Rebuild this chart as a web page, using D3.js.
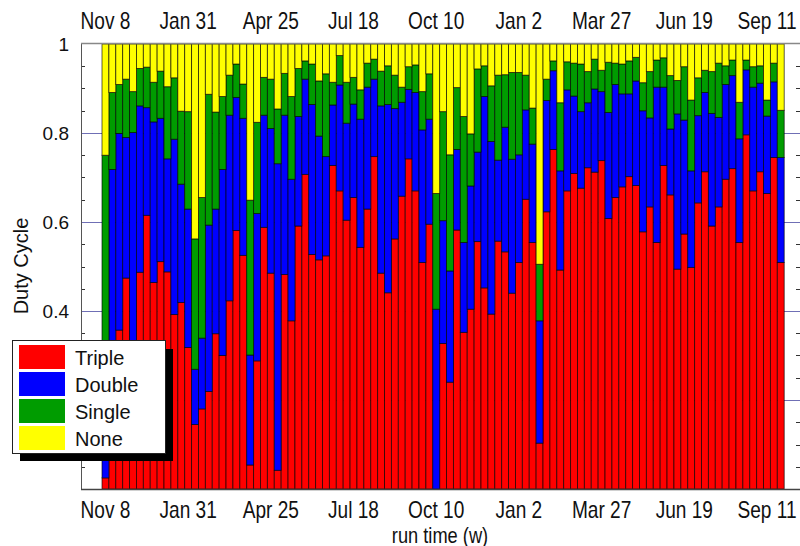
<!DOCTYPE html>
<html>
<head>
<meta charset="utf-8">
<script src="https://cdn.jsdelivr.net/npm/d3@7"></script>
<style>
  html, body { margin: 0; padding: 0; background: #fff; }
  svg { display: block; }
</style>
</head>
<body>
<svg id="chart" width="800" height="546"></svg>
<script>
// ---- data (weekly bars, fractions of time) ----
const weeks = d3.range(99);
const tickWeeks = [0, 12, 24, 36, 48, 60, 72, 84, 96];
const tickLabels = ["Nov 8", "Jan 31", "Apr 25", "Jul 18", "Oct 10", "Jan 2", "Mar 27", "Jun 19", "Sep 11"];
const seriesNames = ["Triple", "Double", "Single", "None"];
const seriesColors = ["#ff0000", "#0000ff", "#009c00", "#ffff00"];
const yTicks = [0.2, 0.4, 0.6, 0.8, 1];

const triple = [.025,.280,.357,.474,.300,.487,.615,.464,.511,.488,.392,.419,.318,.145,.180,.219,.349,.300,.423,.581,
  .525,.054,.288,.588,.485,.042,.482,.378,.591,.707,.527,.515,.524,.727,.670,.604,.655,.543,.629,.747,
  .485,.441,.562,.658,.742,.670,.509,.595,.000,.327,.240,.582,.352,.404,.556,.452,.393,.557,.533,.440,
  .509,.651,.554,.103,.623,.763,.492,.670,.709,.676,.722,.712,.738,.608,.655,.679,.702,.682,.578,.634,
  .554,.727,.661,.494,.573,.498,.643,.713,.591,.634,.696,.720,.554,.796,.670,.713,.664,.745,.509];
const double = [.045,.438,.442,.316,.501,.374,.242,.361,.322,.254,.394,.266,.311,.124,.159,.374,.280,.418,.417,.299,
  .308,.247,.331,.252,.325,.689,.358,.318,.246,.214,.337,.278,.223,.136,.238,.218,.210,.288,.274,.174,
  .376,.423,.293,.211,.156,.221,.298,.236,.404,.276,.250,.181,.202,.277,.201,.430,.388,.182,.280,.301,
  .242,.201,.221,.275,.250,.177,.223,.227,.174,.172,.146,.187,.155,.238,.254,.209,.186,.235,.272,.200,
  .349,.176,.148,.349,.256,.217,.196,.178,.253,.201,.213,.209,.233,.146,.233,.199,.174,.170,.236];
const single = [.680,.173,.110,.131,.092,.084,.091,.089,.106,.162,.138,.164,.219,.293,.316,.294,.218,.164,.090,.075,
  .077,.348,.205,.085,.111,.123,.094,.186,.108,.041,.091,.124,.186,.051,.066,.092,.060,.066,.054,.045,
  .078,.087,.075,.034,.051,.062,.086,.102,.260,.245,.261,.139,.283,.117,.187,.069,.125,.191,.118,.195,
  .185,.078,.081,.127,.048,.022,.153,.063,.074,.107,.070,.067,.048,.113,.048,.067,.074,.053,.063,.104,
  .061,.066,.120,.075,.120,.159,.085,.050,.094,.122,.042,.035,.082,.022,.046,.039,.036,.042,.106];
const none = [.250,.109,.091,.079,.107,.055,.052,.086,.061,.096,.076,.151,.152,.438,.345,.113,.153,.118,.070,.045,
  .090,.351,.176,.075,.079,.146,.066,.118,.055,.038,.045,.083,.067,.086,.026,.086,.075,.103,.043,.034,
  .061,.049,.070,.097,.051,.047,.107,.067,.336,.152,.249,.098,.163,.202,.056,.049,.094,.070,.069,.064,
  .064,.070,.144,.495,.079,.038,.132,.040,.043,.045,.062,.034,.059,.041,.043,.045,.038,.030,.087,.062,
  .036,.031,.071,.082,.051,.126,.076,.059,.062,.043,.049,.036,.131,.036,.051,.049,.126,.043,.149];

// ---- build table ----
const table = weeks.map((w, i) => ({
  week: w, Triple: triple[i], Double: double[i], Single: single[i], None: none[i]
}));

const svg = d3.select("#chart");
const frame = { left: 81, right: 800, top: 44, bottom: 489 };

const x = d3.scaleBand().domain(weeks).range([102, 784.2]).paddingInner(0).paddingOuter(0);
const y = d3.scaleLinear().domain([0, 1]).range([frame.bottom, frame.top]);

// gridlines at major ticks
svg.append("g").selectAll("line")
  .data(yTicks.filter(d => d < 1))
  .join("line")
  .attr("x1", frame.left).attr("x2", frame.right)
  .attr("y1", d => Math.round(y(d)) + 0.5).attr("y2", d => Math.round(y(d)) + 0.5)
  .attr("stroke", "#6f6fb5").attr("stroke-width", 1);

// minor ticks
const minor = d3.range(0.05, 1, 0.05).filter(v => Math.abs(v * 5 - Math.round(v * 5)) > 1e-6);
svg.append("g").selectAll("line")
  .data(minor)
  .join("line")
  .attr("x1", frame.left).attr("x2", frame.left + 4)
  .attr("y1", d => Math.round(y(d)) + 0.5).attr("y2", d => Math.round(y(d)) + 0.5)
  .attr("stroke", "#333");
svg.append("g").selectAll("line")
  .data(minor)
  .join("line")
  .attr("x1", frame.right - 4).attr("x2", frame.right)
  .attr("y1", d => Math.round(y(d)) + 0.5).attr("y2", d => Math.round(y(d)) + 0.5)
  .attr("stroke", "#333");

// stacked bars
const stack = d3.stack().keys(seriesNames)(table);
const color = d3.scaleOrdinal().domain(seriesNames).range(seriesColors);

svg.append("g").selectAll("g")
  .data(stack)
  .join("g")
  .attr("fill", d => color(d.key))
  .selectAll("rect")
  .data(d => d)
  .join("rect")
  .attr("x", d => x(d.data.week))
  .attr("width", x.bandwidth())
  .attr("y", d => y(d[1]))
  .attr("height", d => Math.max(0, y(d[0]) - y(d[1])))
  .attr("stroke", "#000")
  .attr("stroke-opacity", 0.7)
  .attr("stroke-width", 0.9);

// frame
svg.append("line").attr("x1", frame.left + 0.5).attr("x2", frame.left + 0.5)
  .attr("y1", frame.top).attr("y2", frame.bottom).attr("stroke", "#555").attr("stroke-width", 1);
svg.append("line").attr("x1", frame.left).attr("x2", frame.right)
  .attr("y1", frame.top - 0.5).attr("y2", frame.top - 0.5).attr("stroke", "#888").attr("stroke-width", 1.5);
svg.append("line").attr("x1", frame.left).attr("x2", frame.right)
  .attr("y1", frame.bottom + 0.5).attr("y2", frame.bottom + 0.5).attr("stroke", "#444").attr("stroke-width", 1.5);

// x axes (top & bottom) with labels (narrow face emulated by horizontal scaling)
const labelOf = d3.scaleOrdinal().domain(tickWeeks).range(tickLabels);
const xFont = "'Liberation Sans', Arial, sans-serif";
const narrow = 0.83;
const xAxisB = d3.axisBottom(x).tickValues(tickWeeks).tickFormat(d => labelOf(d)).tickSize(0).tickPadding(0);
const xAxisT = d3.axisTop(x).tickValues(tickWeeks).tickFormat(d => labelOf(d)).tickSize(0).tickPadding(0);

const gB = svg.append("g").call(xAxisB);
gB.select(".domain").remove();
gB.selectAll("text").attr("y", 0).attr("dy", null)
  .attr("transform", `translate(0,518) scale(${narrow},1)`)
  .attr("font-family", xFont).attr("font-size", 23).attr("fill", "#111");

const gT = svg.append("g").call(xAxisT);
gT.select(".domain").remove();
gT.selectAll("text").attr("y", 0).attr("dy", null)
  .attr("transform", `translate(0,29) scale(${narrow},1)`)
  .attr("font-family", xFont).attr("font-size", 23).attr("fill", "#111");

// y axis labels
const yAxis = d3.axisLeft(y).tickValues(yTicks).tickFormat(d => d === 1 ? "1" : d3.format(".1f")(d)).tickSize(0).tickPadding(0);
const gY = svg.append("g").call(yAxis);
gY.select(".domain").remove();
gY.selectAll("text").attr("x", 69).attr("dy", "0.35em")
  .attr("font-family", "'Liberation Sans', Arial, sans-serif").attr("font-size", 19).attr("fill", "#111");

// axis titles
svg.append("text").attr("transform", `translate(440,543) scale(${narrow},1)`).attr("text-anchor", "middle")
  .attr("font-family", xFont).attr("font-size", 22).attr("fill", "#111").text("run time (w)");
svg.append("text").attr("transform", "translate(28,266) rotate(-90)").attr("text-anchor", "middle")
  .attr("font-family", "'Liberation Sans', Arial, sans-serif").attr("font-size", 20).attr("fill", "#111").text("Duty Cycle");

// legend
const lg = svg.append("g");
lg.append("rect").attr("x", 20).attr("y", 349).attr("width", 153).attr("height", 112).attr("fill", "#000");
lg.append("rect").attr("x", 12.5).attr("y", 340.5).attr("width", 153).attr("height", 113)
  .attr("fill", "#fff").attr("stroke", "#222").attr("stroke-width", 1);
const items = lg.selectAll("g.item").data(seriesNames).join("g").attr("class", "item")
  .attr("transform", (d, i) => `translate(19,${345 + i * 27})`);
items.append("rect").attr("width", 46).attr("height", 24).attr("fill", d => color(d));
items.append("text").attr("x", 56).attr("y", 19.5)
  .attr("font-family", "'Liberation Sans', Arial, sans-serif").attr("font-size", 20).attr("fill", "#111")
  .text(d => d);
</script>
</body>
</html>
